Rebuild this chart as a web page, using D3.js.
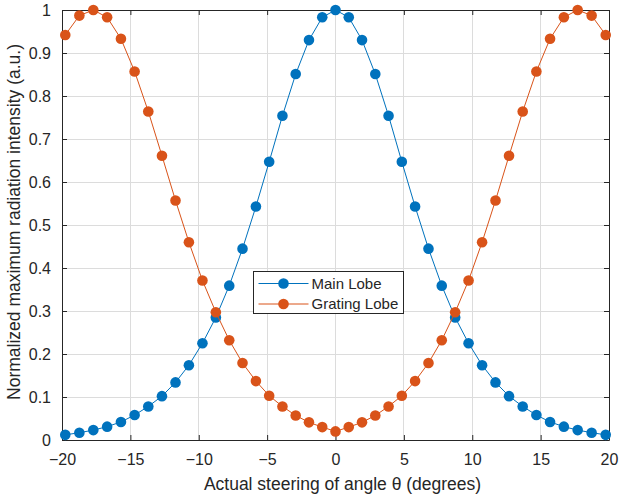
<!DOCTYPE html>
<html>
<head>
<meta charset="utf-8">
<script src="https://cdn.jsdelivr.net/npm/d3@7"></script>
<style>
  html, body { margin: 0; padding: 0; background: #fff; }
  svg { display: block; font-family: "Liberation Sans", Arial, sans-serif; }
</style>
</head>
<body>
<svg id="chart" width="621" height="498"></svg>
<script>
// Actual steering angle (degrees)
const angles = [-19.76, -18.73, -17.71, -16.70, -15.69, -14.69, -13.69, -12.69, -11.70, -10.72,
  -9.73, -8.75, -7.77, -6.80, -5.82, -4.85, -3.88, -2.91, -1.94, -0.97, 0,
  0.97, 1.94, 2.91, 3.88, 4.85, 5.82, 6.80, 7.77, 8.75, 9.73,
  10.72, 11.70, 12.69, 13.69, 14.69, 15.69, 16.70, 17.71, 18.73, 19.76];

const mainLobe = [0.012, 0.017, 0.023, 0.031, 0.042, 0.058, 0.078, 0.102, 0.134, 0.174,
  0.225, 0.285, 0.359, 0.445, 0.543, 0.647, 0.754, 0.851, 0.930, 0.983, 1.0,
  0.983, 0.930, 0.851, 0.754, 0.647, 0.543, 0.445, 0.359, 0.285, 0.225,
  0.174, 0.134, 0.102, 0.078, 0.058, 0.042, 0.031, 0.023, 0.017, 0.012];

const gratingLobe = [0.942, 0.987, 1.0, 0.983, 0.933, 0.857, 0.764, 0.661, 0.557, 0.460,
  0.371, 0.297, 0.232, 0.179, 0.137, 0.103, 0.078, 0.057, 0.041, 0.030, 0.020,
  0.030, 0.041, 0.057, 0.078, 0.103, 0.137, 0.179, 0.232, 0.297, 0.371,
  0.460, 0.557, 0.661, 0.764, 0.857, 0.933, 0.983, 1.0, 0.987, 0.942];

const xTicks = [-20, -15, -10, -5, 0, 5, 10, 15, 20];
const yTicks = [0, 0.1, 0.2, 0.3, 0.4, 0.5, 0.6, 0.7, 0.8, 0.9, 1];
const seriesNames = ["Main Lobe", "Grating Lobe"];
const seriesColors = ["#0072BD", "#D95319"];

const svg = d3.select("#chart");
const L = 62, R = 609, T = 10, B = 440;
const x = d3.scaleLinear().domain([-20, 20]).range([L, R]);
const y = d3.scaleLinear().domain([0, 1]).range([B, T]);

// grid
const grid = svg.append("g");
grid.selectAll("line.gx").data(xTicks.slice(1, -1)).enter().append("line")
  .attr("x1", d => x(d)).attr("x2", d => x(d)).attr("y1", T).attr("y2", B)
  .attr("stroke", "#dcdcdc").attr("stroke-width", 1).attr("shape-rendering", "crispEdges");
grid.selectAll("line.gy").data(yTicks.slice(1, -1)).enter().append("line")
  .attr("x1", L).attr("x2", R).attr("y1", d => y(d)).attr("y2", d => y(d))
  .attr("stroke", "#dcdcdc").attr("stroke-width", 1).attr("shape-rendering", "crispEdges");

// axes (box with inward ticks)
const axColor = "#262626";
const fmtY = d => (d === 0 || d === 1) ? String(d) : d3.format(".1f")(d);
const gx = svg.append("g").attr("transform", `translate(0,${B})`)
  .call(d3.axisBottom(x).tickValues(xTicks).tickSizeInner(-5).tickSizeOuter(0).tickPadding(14));
const gxt = svg.append("g").attr("transform", `translate(0,${T})`)
  .call(d3.axisTop(x).tickValues(xTicks).tickSizeInner(-5).tickSizeOuter(0).tickFormat(""));
const gy = svg.append("g").attr("transform", `translate(${L},0)`)
  .call(d3.axisLeft(y).tickValues(yTicks).tickSizeInner(-5).tickSizeOuter(0).tickPadding(11).tickFormat(fmtY));
const gyr = svg.append("g").attr("transform", `translate(${R},0)`)
  .call(d3.axisRight(y).tickValues(yTicks).tickSizeInner(-5).tickSizeOuter(0).tickFormat(""));
[gx, gxt, gy, gyr].forEach(g => {
  g.select(".domain").attr("stroke", axColor).attr("stroke-width", 1);
  g.selectAll(".tick line").attr("stroke", axColor);
  g.selectAll("text").attr("fill", axColor).style("font-size", "16px")
    .style("font-family", "'Liberation Sans', Arial, sans-serif");
});

// series
const series = [mainLobe, gratingLobe];
const line = d3.line().x((d, i) => x(angles[i])).y(d => y(d));
series.forEach((vals, si) => {
  const g = svg.append("g");
  g.append("path").datum(vals).attr("d", line).attr("fill", "none")
    .attr("stroke", seriesColors[si]).attr("stroke-width", 1);
  g.selectAll("circle").data(vals).enter().append("circle")
    .attr("cx", (d, i) => x(angles[i])).attr("cy", d => y(d)).attr("r", 5.3)
    .attr("fill", seriesColors[si]);
});

// legend
const lg = svg.append("g").attr("transform", "translate(253.5,271.5)");
lg.append("rect").attr("width", 150).attr("height", 42).attr("fill", "#fff")
  .attr("stroke", axColor).attr("stroke-width", 1);
seriesNames.forEach((name, i) => {
  const cy = 12 + i * 20.5;
  lg.append("line").attr("x1", 5).attr("x2", 55).attr("y1", cy).attr("y2", cy)
    .attr("stroke", seriesColors[i]).attr("stroke-width", 1);
  lg.append("circle").attr("cx", 30).attr("cy", cy).attr("r", 5.3).attr("fill", seriesColors[i]);
  lg.append("text").attr("x", 58).attr("y", cy).attr("dy", "0.35em")
    .attr("fill", axColor).style("font-size", "15px").text(name);
});

// axis labels
svg.append("text").attr("x", (L + R) / 2 + 7).attr("y", 490).attr("text-anchor", "middle")
  .attr("fill", axColor).style("font-size", "17.5px").text("Actual steering of angle θ (degrees)");
svg.append("text").attr("transform", `translate(20,${(T + B) / 2 - 3}) rotate(-90)`)
  .attr("text-anchor", "middle").attr("fill", axColor).style("font-size", "17.5px")
  .text("Normalized maximum radiation intensity (a.u.)");
</script>
</body>
</html>
